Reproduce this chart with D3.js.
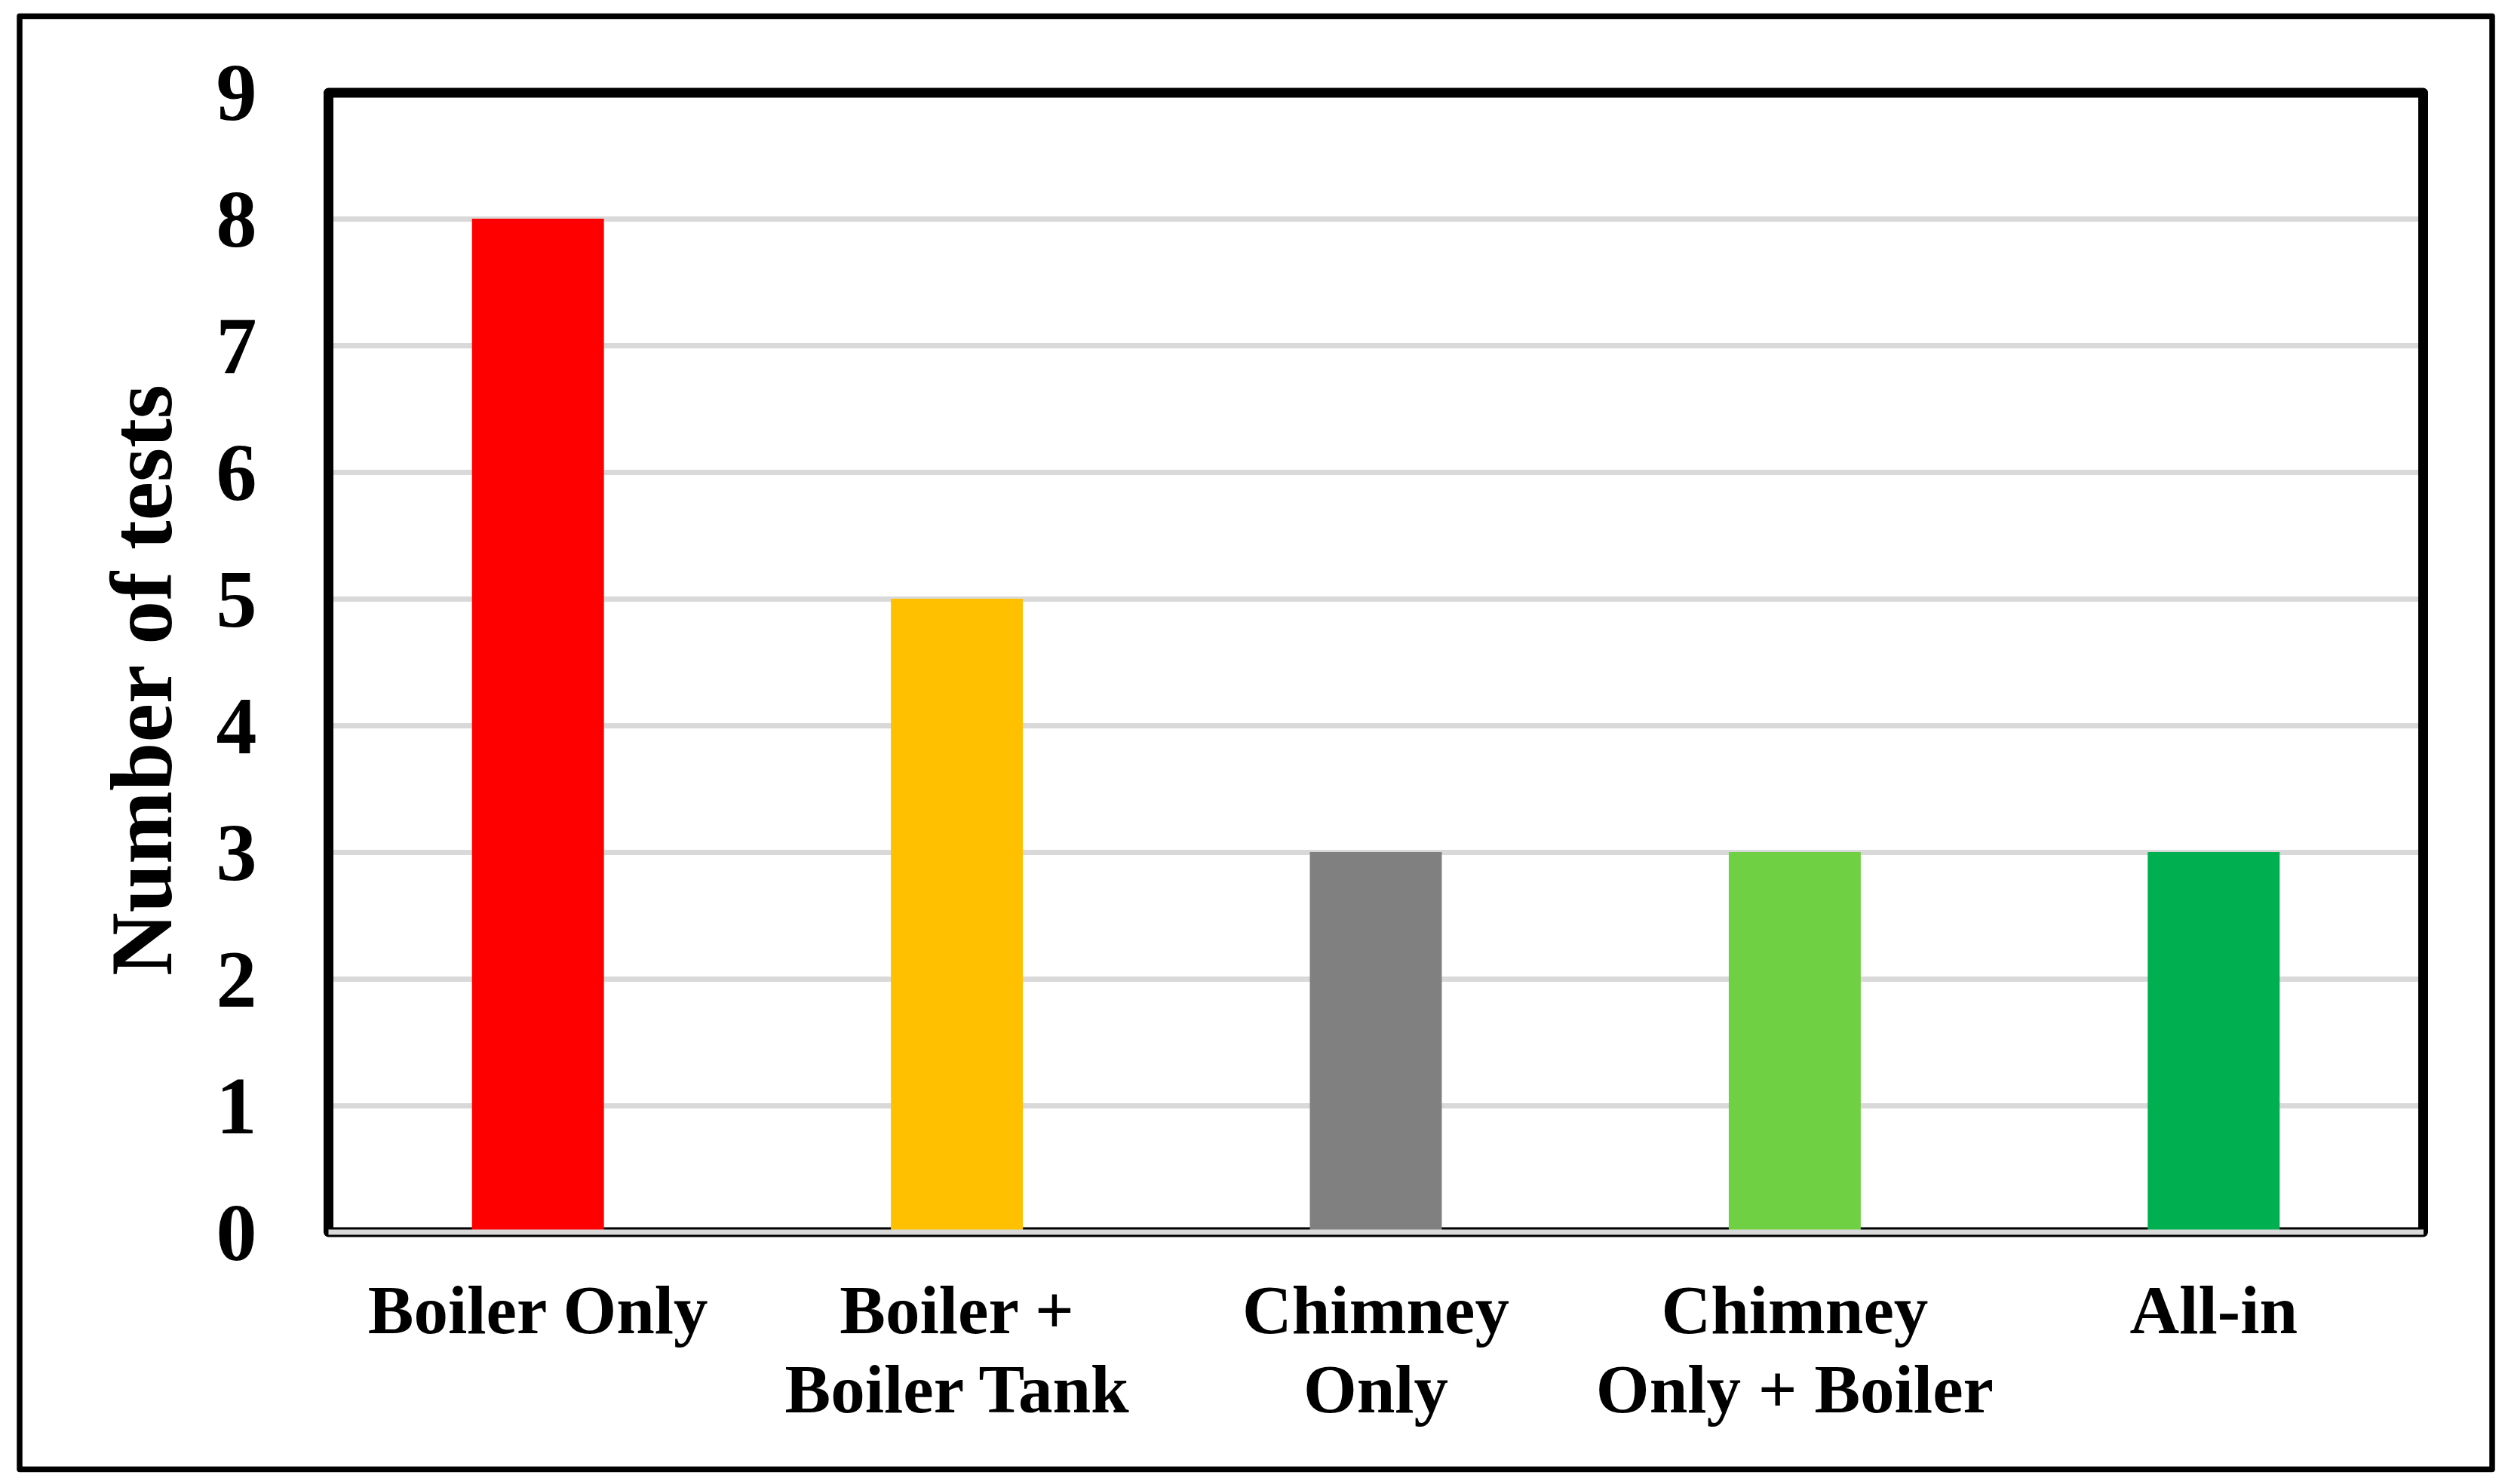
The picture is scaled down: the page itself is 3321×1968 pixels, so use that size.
<!DOCTYPE html>
<html>
<head>
<meta charset="utf-8">
<script src="https://cdn.jsdelivr.net/npm/d3@7"></script>
<style>
  html, body { margin: 0; padding: 0; background: #ffffff; }
  svg { display: block; }
  text { font-family: "Liberation Serif", "Times New Roman", serif; font-weight: bold; fill: #000; }
</style>
</head>
<body>
<svg id="chart" width="3321" height="1968"></svg>
<script>
// ---- data ----
const categories = [["Boiler Only"], ["Boiler +", "Boiler Tank"], ["Chimney", "Only"], ["Chimney", "Only + Boiler"], ["All-in"]];
const categoryKeys = ["Boiler Only", "Boiler + Boiler Tank", "Chimney Only", "Chimney Only + Boiler", "All-in"];
const testCounts = [8, 5, 3, 3, 3];
const barColors = ["#FF0000", "#FFC000", "#808080", "#70D044", "#00B050"];
const yTicks = [0, 1, 2, 3, 4, 5, 6, 7, 8, 9];
const yTitle = "Number of tests";

// ---- layout ----
const W = 3321, H = 1968;
const plot = { left: 435.5, right: 3212.5, top: 122, bottom: 1634 };

const svg = d3.select("#chart");
svg.append("rect").attr("width", W).attr("height", H).attr("fill", "#ffffff");

// outer frame
svg.append("rect")
  .attr("x", 26).attr("y", 21.5)
  .attr("width", 3304 - 26).attr("height", 1948.5 - 21.5)
  .attr("fill", "none").attr("stroke", "#000").attr("stroke-width", 7.5)
  .attr("stroke-linejoin", "round");

const x = d3.scaleBand()
  .domain(categoryKeys)
  .range([plot.left, plot.right])
  .paddingInner(0.685)
  .paddingOuter(0.3425);

const y = d3.scaleLinear().domain([0, 9]).range([plot.bottom, plot.top]);

// gridlines
const grid = svg.append("g")
  .attr("transform", `translate(${plot.left},0)`)
  .call(d3.axisLeft(y).tickValues(yTicks.filter(t => t > 0 && t < 9)).tickSize(-(plot.right - plot.left)).tickFormat(""));
grid.select(".domain").remove();
grid.selectAll(".tick line").attr("stroke", "#D9D9D9").attr("stroke-width", 7);

// plot border
svg.append("rect")
  .attr("x", plot.left).attr("y", 123)
  .attr("width", plot.right - plot.left).attr("height", plot.bottom - 123)
  .attr("fill", "none").attr("stroke", "#000").attr("stroke-width", 13)
  .attr("stroke-linejoin", "round");

// bars
svg.append("g").selectAll("rect")
  .data(testCounts)
  .join("rect")
  .attr("x", (d, i) => x(categoryKeys[i]))
  .attr("width", x.bandwidth())
  .attr("y", d => y(d))
  .attr("height", d => y(0) - y(d))
  .attr("fill", (d, i) => barColors[i]);

// x axis line (gray)
svg.append("line")
  .attr("x1", plot.left).attr("x2", plot.right + 0.5)
  .attr("y1", y(0)).attr("y2", y(0))
  .attr("stroke", "#D9D9D9").attr("stroke-width", 7);

// y tick labels
const yAxis = svg.append("g")
  .attr("transform", `translate(${plot.left},0)`)
  .call(d3.axisLeft(y).tickValues(yTicks).tickSize(0).tickPadding(95).tickFormat(d3.format("d")));
yAxis.select(".domain").remove();
yAxis.selectAll(".tick text")
  .attr("font-size", 108)
  .attr("font-family", "Liberation Serif, Times New Roman, serif")
  .attr("font-weight", "bold")
  .attr("fill", "#000")
  .attr("dy", "0.34em");

// category labels
const catG = svg.append("g");
categories.forEach((lines, i) => {
  const cx = x(categoryKeys[i]) + x.bandwidth() / 2;
  const t = catG.append("text")
    .attr("x", cx).attr("y", 1768)
    .attr("text-anchor", "middle")
    .attr("font-size", 91);
  lines.forEach((ln, j) => {
    t.append("tspan").attr("x", cx).attr("y", 1768 + j * 105).text(ln);
  });
});

// y title
svg.append("text")
  .attr("transform", `translate(227,902) rotate(-90)`)
  .attr("text-anchor", "middle")
  .attr("font-size", 116)
  .text(yTitle);
</script>
</body>
</html>
